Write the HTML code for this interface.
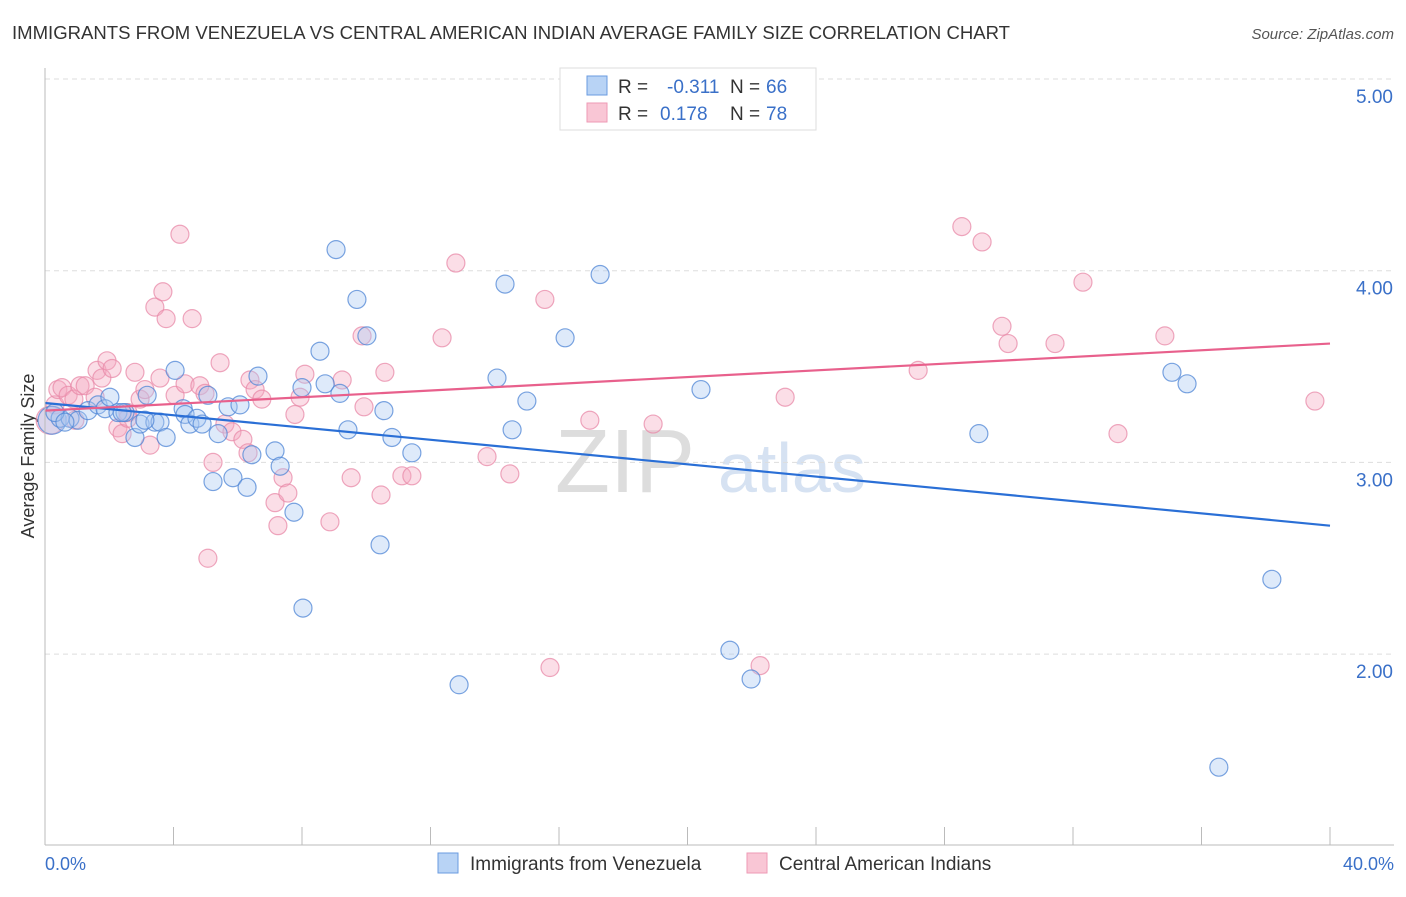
<!DOCTYPE html>
<html><head><meta charset="utf-8"><style>
body{margin:0;background:#fff;font-family:"Liberation Sans",sans-serif;}
svg text{font-family:"Liberation Sans",sans-serif;}
</style></head><body>
<svg id="c" width="1406" height="892">
<text x="12" y="39" font-size="18" fill="#333" textLength="998" lengthAdjust="spacingAndGlyphs">IMMIGRANTS FROM VENEZUELA VS CENTRAL AMERICAN INDIAN AVERAGE FAMILY SIZE CORRELATION CHART</text>
<text x="1394" y="39" font-size="15" fill="#555" font-style="italic" text-anchor="end">Source: ZipAtlas.com</text>
<text x="555" y="492" font-size="90" fill="#ddd" font-family="Liberation Serif">ZIP</text>
<text x="718" y="492" font-size="70" fill="#d6e2f2">atlas</text>
<text x="34" y="456" font-size="18" fill="#333" text-anchor="middle" transform="rotate(-90 34 456)">Average Family Size</text>
<g id="grid"></g><g id="pts"></g><g id="lines"></g>
<line x1="45" y1="68" x2="45" y2="845" stroke="#bbb"/>
<line x1="45" y1="845" x2="1394" y2="845" stroke="#bbb"/>
<text x="45" y="870" font-size="18" fill="#3a70c8">0.0%</text>
<text x="1394" y="870" font-size="18" fill="#3a70c8" text-anchor="end">40.0%</text>
<g>
<rect x="560" y="68" width="256" height="62" fill="#fff" stroke="#ddd"/>
<rect x="587" y="76" width="20" height="19" fill="#b8d3f5" stroke="#6a9be0"/>
<rect x="587" y="103" width="20" height="19" fill="#f9c6d5" stroke="#ee9ab5"/>
<text x="618" y="93" font-size="19" fill="#333">R =</text><text x="667" y="93" font-size="19" fill="#3a70c8">-0.311</text>
<text x="730" y="93" font-size="19" fill="#333">N =</text><text x="766" y="93" font-size="19" fill="#3a70c8">66</text>
<text x="618" y="120" font-size="19" fill="#333">R =</text><text x="660" y="120" font-size="19" fill="#3a70c8">0.178</text>
<text x="730" y="120" font-size="19" fill="#333">N =</text><text x="766" y="120" font-size="19" fill="#3a70c8">78</text>
</g>
<g>
<rect x="438" y="853" width="20" height="20" fill="#b8d3f5" stroke="#6a9be0"/>
<text x="470" y="870" font-size="19" fill="#333">Immigrants from Venezuela</text>
<rect x="747" y="853" width="20" height="20" fill="#f9c6d5" stroke="#ee9ab5"/>
<text x="779" y="870" font-size="19" fill="#333">Central American Indians</text>
</g>
</svg>
<script>
const yTicks=[2,3,4,5];
const yTickLabels=["2.00","3.00","4.00","5.00"];
const xTicks=[0,4,8,12,16,20,24,28,32,36,40];
const blueX=[0.22,0.47,0.78,1.03,1.34,1.65,1.87,2.02,2.27,2.49,2.80,2.96,3.18,3.42,3.58,3.77,4.05,4.30,4.36,4.51,4.73,4.89,5.07,5.23,5.39,5.70,5.85,6.07,6.29,6.44,6.63,7.16,7.32,7.75,8.00,8.03,8.56,8.72,9.06,9.18,9.43,9.71,10.02,10.55,10.80,10.43,11.42,12.89,14.07,14.32,14.54,15.00,16.19,17.28,20.42,21.32,21.98,29.07,35.08,35.55,36.54,38.19,0.31,0.62,2.40,3.11];
const blueY=[3.22,3.23,3.23,3.22,3.27,3.30,3.28,3.34,3.26,3.26,3.13,3.20,3.35,3.21,3.21,3.13,3.48,3.28,3.25,3.20,3.23,3.20,3.35,2.90,3.15,3.29,2.92,3.30,2.87,3.04,3.45,3.06,2.98,2.74,3.39,2.24,3.58,3.41,4.11,3.36,3.17,3.85,3.66,3.27,3.13,2.57,3.05,1.84,3.44,3.93,3.17,3.32,3.65,3.98,3.38,2.02,1.87,3.15,3.47,3.41,1.41,2.39,3.26,3.21,3.26,3.22];
const pinkX=[0.16,0.31,0.40,0.53,0.72,0.90,1.09,1.25,1.56,1.62,1.77,1.93,2.09,2.27,2.40,2.58,2.80,2.96,3.11,3.27,3.42,3.67,3.77,4.05,4.20,4.36,4.58,4.82,4.98,5.23,5.07,5.45,5.60,5.82,6.16,6.32,6.38,6.54,6.75,7.16,7.25,7.41,7.56,7.78,7.94,8.09,8.87,9.25,9.53,9.87,9.93,10.46,10.58,11.11,11.42,12.36,12.79,13.76,14.47,15.56,15.72,16.96,18.93,22.26,23.04,27.18,28.54,29.17,29.79,29.98,31.44,32.31,33.40,34.86,39.53,2.58,0.93,3.58];
const pinkY=[3.22,3.30,3.38,3.39,3.35,3.33,3.40,3.40,3.34,3.48,3.44,3.53,3.49,3.18,3.15,3.26,3.47,3.33,3.38,3.09,3.81,3.89,3.75,3.35,4.19,3.41,3.75,3.40,3.36,3.00,2.50,3.52,3.20,3.16,3.12,3.05,3.43,3.38,3.33,2.79,2.67,2.92,2.84,3.25,3.34,3.46,2.69,3.43,2.92,3.66,3.29,2.83,3.47,2.93,2.93,3.65,4.04,3.03,2.94,3.85,1.93,3.22,3.20,1.94,3.34,3.48,4.23,4.15,3.71,3.62,3.62,3.94,3.15,3.66,3.32,3.23,3.22,3.44];
const blueTrend=[3.31,2.67];
const pinkTrend=[3.27,3.62];
const X=v=>45+v/40*1285, Y=v=>79+(5-v)*191.7;
const NS="http://www.w3.org/2000/svg";
function mk(t,a,p){const e=document.createElementNS(NS,t);for(const k in a)e.setAttribute(k,a[k]);p.appendChild(e);return e;}
const grid=document.getElementById('grid');
yTicks.forEach((t,i)=>{
 const l=mk('line',{x1:45,x2:1394,y1:Y(t),y2:Y(t),stroke:'#ddd','stroke-dasharray':'5,4'},grid);
 
 
 const tx=mk('text',{x:1393,y:Y(t)+24,'font-size':19,fill:'#3a70c8','text-anchor':'end'},grid);
 tx.textContent=yTickLabels[i];
 
 
});
xTicks.forEach(t=>{
 const l=mk('line',{x1:X(t),x2:X(t),y1:827,y2:845,stroke:'#bbb'},grid);
 
 
});
const pts=document.getElementById('pts');
function dots(xs,ys,fill,stroke,name){
 xs.forEach((x,i)=>{
  const r=i===0?14:9;
  const c=mk('circle',{cx:X(x),cy:Y(ys[i]),r:r,fill:fill,'fill-opacity':0.38,stroke:stroke,'stroke-opacity':0.75,'stroke-width':1.2},pts);
  
  
 });
}
dots(pinkX,pinkY,'#f4a9c0','#e88aa8','pink-point');
dots(blueX,blueY,'#a9c8f2','#4f86d6','blue-point');
const lines=document.getElementById('lines');
const bl=mk('line',{x1:X(0),y1:Y(blueTrend[0]),x2:X(40),y2:Y(blueTrend[1]),stroke:'#2a6fd6','stroke-width':2.2},lines);


const pl=mk('line',{x1:X(0),y1:Y(pinkTrend[0]),x2:X(40),y2:Y(pinkTrend[1]),stroke:'#e8608c','stroke-width':2.2},lines);


</script>
</body></html>
